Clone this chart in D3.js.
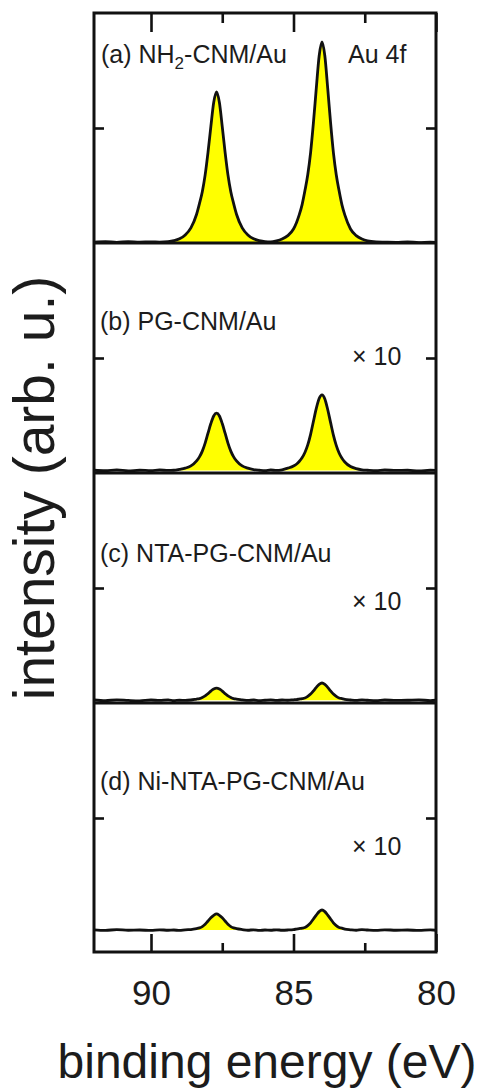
<!DOCTYPE html>
<html>
<head>
<meta charset="utf-8">
<script src="https://cdn.jsdelivr.net/npm/d3@7"></script>
<style>
  body { margin: 0; background: #fff; }
  svg { display: block; }
  text { font-family: Arial, "Liberation Sans", sans-serif; fill: #1c1c1c; }
</style>
</head>
<body>
<svg id="chart" width="482" height="1090"></svg>
<script>
// Au 4f core-level spectra, binding energy in eV (shared grid, descending)
const energies = [
  92.0, 91.6, 91.2, 90.8, 90.4, 90.0, 89.7, 89.4, 89.2, 89.0,
  88.8, 88.6, 88.4, 88.3, 88.2, 88.1, 88.0, 87.9, 87.8, 87.7,
  87.6, 87.5, 87.4, 87.3, 87.2, 87.1, 87.0, 86.8, 86.6, 86.4,
  86.2, 86.0, 85.8, 85.6, 85.4, 85.2, 85.0, 84.9, 84.8, 84.7,
  84.6, 84.5, 84.4, 84.3, 84.2, 84.1, 84.0, 83.9, 83.8, 83.7,
  83.6, 83.5, 83.4, 83.3, 83.2, 83.0, 82.8, 82.6, 82.4, 82.1,
  81.8, 81.4, 81.0, 80.6, 80.2, 80.0
];

// (a) NH2-CNM/Au
const intensityA = [
  0.004, 0.006, 0.003, 0.006, 0.004, 0.005, 0.004, 0.006, 0.010, 0.018,
  0.035, 0.066, 0.125, 0.171, 0.223, 0.296, 0.394, 0.506, 0.611, 0.657,
  0.611, 0.506, 0.394, 0.296, 0.223, 0.171, 0.125, 0.066, 0.035, 0.018,
  0.010, 0.006, 0.005, 0.009, 0.017, 0.032, 0.061, 0.087, 0.122, 0.166,
  0.227, 0.297, 0.393, 0.524, 0.673, 0.813, 0.874, 0.813, 0.673, 0.524,
  0.393, 0.297, 0.227, 0.166, 0.122, 0.061, 0.032, 0.017, 0.009, 0.005,
  0.004, 0.003, 0.005, 0.002, 0.004, 0.003
];

// (b) PG-CNM/Au, x10
const intensityB = [
  0.012, 0.010, 0.013, 0.009, 0.012, 0.010, 0.013, 0.011, 0.012, 0.016,
  0.021, 0.031, 0.053, 0.070, 0.095, 0.130, 0.173, 0.215, 0.248, 0.260,
  0.248, 0.215, 0.173, 0.130, 0.095, 0.070, 0.053, 0.031, 0.021, 0.015,
  0.012, 0.010, 0.013, 0.011, 0.014, 0.021, 0.030, 0.038, 0.050, 0.066,
  0.089, 0.122, 0.168, 0.225, 0.281, 0.324, 0.340, 0.322, 0.276, 0.220,
  0.165, 0.120, 0.087, 0.064, 0.048, 0.028, 0.019, 0.014, 0.012, 0.010,
  0.013, 0.011, 0.012, 0.009, 0.012, 0.011
];

// (c) NTA-PG-CNM/Au, x10
const intensityC = [
  0.013, 0.010, 0.014, 0.011, 0.009, 0.013, 0.011, 0.014, 0.010, 0.012,
  0.011, 0.013, 0.017, 0.019, 0.024, 0.031, 0.041, 0.052, 0.061, 0.065,
  0.061, 0.052, 0.041, 0.031, 0.024, 0.019, 0.017, 0.014, 0.011, 0.013,
  0.010, 0.012, 0.014, 0.011, 0.013, 0.012, 0.014, 0.015, 0.017, 0.019,
  0.022, 0.029, 0.039, 0.053, 0.068, 0.081, 0.087, 0.081, 0.068, 0.053,
  0.039, 0.029, 0.022, 0.019, 0.016, 0.013, 0.011, 0.014, 0.012, 0.010,
  0.013, 0.011, 0.012, 0.014, 0.010, 0.012
];

// (d) Ni-NTA-PG-CNM/Au, x10
const intensityD = [
  0.014, 0.011, 0.015, 0.012, 0.013, 0.011, 0.014, 0.012, 0.013, 0.011,
  0.014, 0.015, 0.019, 0.022, 0.028, 0.038, 0.052, 0.066, 0.077, 0.083,
  0.077, 0.066, 0.052, 0.038, 0.028, 0.022, 0.019, 0.015, 0.012, 0.014,
  0.011, 0.013, 0.012, 0.014, 0.012, 0.013, 0.015, 0.017, 0.019, 0.021,
  0.024, 0.032, 0.044, 0.061, 0.078, 0.093, 0.100, 0.093, 0.078, 0.061,
  0.044, 0.032, 0.024, 0.021, 0.017, 0.014, 0.012, 0.015, 0.013, 0.011,
  0.014, 0.012, 0.013, 0.011, 0.014, 0.012
];

// background level of each spectrum (fill floor)
const backgroundLevels = [0.004, 0.011, 0.012, 0.013];

const panelPrefixes = ["(a) NH", "(b) PG-CNM/Au", "(c) NTA-PG-CNM/Au", "(d) Ni-NTA-PG-CNM/Au"];
const scaleNotes = ["", "× 10", "× 10", "× 10"];
const majorTicks = [90, 85, 80];
const minorTicks = [87.5, 82.5];
const yTickValues = [0.5];

const spectra = [intensityA, intensityB, intensityC, intensityD];

const svg = d3.select("#chart");
const frame = { left: 94, right: 436, top: 13, bottom: 952 };
const panelHeight = 230;
const ink = "#111";

const x = d3.scaleLinear().domain([92, 80]).range([frame.left, frame.right]);

const plot = svg.append("g");

spectra.forEach((vals, i) => {
  const top = frame.top + i * panelHeight;
  const y = d3.scaleLinear().domain([0, 1]).range([top + panelHeight, top]);
  const pts = energies.map((e, k) => ({ e, v: vals[k] }));
  const floor = backgroundLevels[i];

  const area = d3.area()
    .x(d => x(d.e))
    .y0(y(floor))
    .y1(d => y(Math.max(d.v, floor)))
    .curve(d3.curveMonotoneX);
  const line = d3.line()
    .x(d => x(d.e))
    .y(d => y(d.v))
    .curve(d3.curveMonotoneX);

  const g = plot.append("g");
  g.append("path").attr("d", area(pts)).attr("fill", "#ffff00");
  g.append("path").attr("d", line(pts))
    .attr("fill", "none").attr("stroke", ink).attr("stroke-width", 2.8)
    .attr("stroke-linejoin", "round");

  // inward ticks on both sides
  const la = d3.axisLeft(y).tickValues(yTickValues).tickSize(-10).tickFormat("");
  const ra = d3.axisRight(y).tickValues(yTickValues).tickSize(-10).tickFormat("");
  const lg = g.append("g").attr("transform", `translate(${frame.left},0)`).call(la);
  const rg = g.append("g").attr("transform", `translate(${frame.right},0)`).call(ra);
  [lg, rg].forEach(a => {
    a.select(".domain").remove();
    a.selectAll("line").attr("stroke", ink).attr("stroke-width", 2.6);
  });

  // divider between stacked panels
  if (i > 0) {
    g.append("line")
      .attr("x1", frame.left).attr("x2", frame.right)
      .attr("y1", top).attr("y2", top)
      .attr("stroke", ink).attr("stroke-width", 3);
  }

  // sample label
  const lbl = g.append("text").attr("font-size", 25);
  if (i === 0) {
    lbl.attr("x", 101).attr("y", top + 50);
    lbl.append("tspan").text(panelPrefixes[0]);
    lbl.append("tspan").attr("font-size", 17).attr("dy", 6).text("2");
    lbl.append("tspan").attr("dy", -6).text("-CNM/Au");
    g.append("text").attr("font-size", 25).attr("x", 348).attr("y", top + 50).text("Au 4f");
  } else {
    lbl.attr("x", 100).attr("y", top + [0, 87, 89, 87][i]).text(panelPrefixes[i]);
    g.append("text").attr("font-size", 25)
      .attr("x", 352).attr("y", top + [0, 122, 137, 152][i])
      .text(scaleNotes[i]);
  }
});

// x axes: top (ticks only) and bottom (ticks + labels)
function styleAxis(a) {
  a.select(".domain").remove();
  a.selectAll("line").attr("stroke", ink).attr("stroke-width", 2.6);
}
const topMajor = plot.append("g").attr("transform", `translate(0,${frame.top})`)
  .call(d3.axisTop(x).tickValues(majorTicks).tickSize(-19).tickFormat(""));
const topMinor = plot.append("g").attr("transform", `translate(0,${frame.top})`)
  .call(d3.axisTop(x).tickValues(minorTicks).tickSize(-10).tickFormat(""));
const botMajor = plot.append("g").attr("transform", `translate(0,${frame.bottom})`)
  .call(d3.axisBottom(x).tickValues(majorTicks).tickSize(-18).tickPadding(28).tickFormat(d3.format("d")));
const botMinor = plot.append("g").attr("transform", `translate(0,${frame.bottom})`)
  .call(d3.axisBottom(x).tickValues(minorTicks).tickSize(-9).tickFormat(""));
[topMajor, topMinor, botMajor, botMinor].forEach(styleAxis);
botMajor.selectAll("text")
  .attr("font-size", 35).attr("fill", "#1c1c1c")
  .attr("font-family", 'Arial, "Liberation Sans", sans-serif');

// outer frame
plot.append("rect")
  .attr("x", frame.left).attr("y", frame.top)
  .attr("width", frame.right - frame.left).attr("height", frame.bottom - frame.top)
  .attr("fill", "none").attr("stroke", ink).attr("stroke-width", 3);

// axis titles
svg.append("text")
  .attr("x", 267).attr("y", 1078)
  .attr("text-anchor", "middle").attr("font-size", 48)
  .text("binding energy (eV)");
svg.append("text")
  .attr("transform", "translate(54,488) rotate(-90)")
  .attr("text-anchor", "middle").attr("font-size", 57)
  .text("intensity (arb. u.)");
</script>
</body>
</html>
